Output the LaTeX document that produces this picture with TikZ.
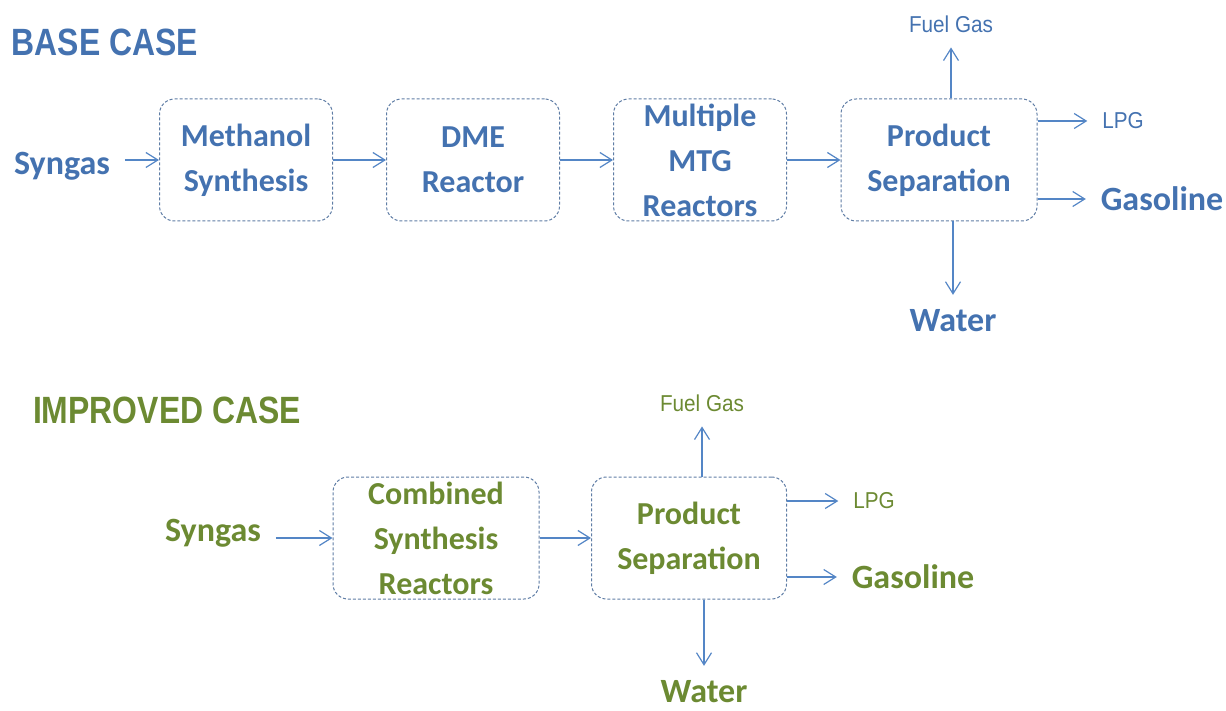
\documentclass[tikz,border=0pt]{standalone}
\usepackage{fontspec}
\setmainfont{Carlito}
\newfontfamily\headfont[FakeStretch=0.84]{Liberation Sans}
\newfontfamily\streamfont[FakeStretch=0.9]{Liberation Sans}
\usetikzlibrary{arrows.meta}
\definecolor{baseBlue}{RGB}{68,114,176}
\definecolor{impGreen}{RGB}{108,138,50}
\definecolor{boxEdge}{RGB}{95,125,165}
\definecolor{arrowBlue}{RGB}{84,134,198}
\begin{document}
\begin{tikzpicture}
[x=1pt,y=-1pt,%
  unitBox/.style={shape=rectangle,rounded corners=15pt,draw=boxEdge,line width=1pt,dash pattern=on 3pt off 2pt,align=center,inner sep=2pt,minimum height=122pt,font=\fontsize{32}{45}\selectfont\bfseries},%
  flowLine/.style={-{Straight Barb[length=12pt,width=15pt]},line width=1.2pt,color=arrowBlue},%
  titleText/.style={inner sep=0pt,font=\headfont\fontsize{38}{40}\selectfont\bfseries},%
  bigStream/.style={inner sep=0pt,outer sep=15pt,font=\fontsize{34}{40}\selectfont\bfseries},%
  smallStream/.style={inner sep=0pt,outer sep=15pt,font=\streamfont\fontsize{23}{26}\selectfont},%
  baseText/.style={text=baseBlue},%
  impText/.style={text=impGreen}]
\useasboundingbox (0,0) rectangle (1226,711);
%% base case
\node (baseTitle) at (105,42) [titleText,baseText] {BASE CASE};
\foreach \nodename/\x/\w/\txt in {meth/246/173/{Methanol\\Synthesis}, dme/473/173/{DME\\Reactor}, mtg/700/173/{Multiple\\MTG\\Reactors}, sepA/939/196/{Product\\Separation}}
{
  \node (\nodename) at (\x,160) [unitBox,baseText,minimum width=\w pt] {\txt};
}
\node (syngasA) at (62,166) [bigStream,baseText] {Syngas};
\node (gasA) at (1162,199) [bigStream,baseText] {Gasoline};
\node (waterA) at (953,321) [bigStream,baseText] {Water};
\node (fuelA) at (951,24) [smallStream,baseText] {Fuel Gas};
\node (lpgA) at (1123,121) [smallStream,baseText] {LPG};
%% improved case
\node (impTitle) at (167,410) [titleText,impText] {IMPROVED CASE};
\foreach \nodename/\x/\w/\txt in {comb/436/206/{Combined\\Synthesis\\Reactors}, sepB/689/195/{Product\\Separation}}
{
  \node (\nodename) at (\x,538) [unitBox,impText,minimum width=\w pt] {\txt};
}
\node (syngasB) at (213,533) [bigStream,impText] {Syngas};
\node (gasB) at (913,577) [bigStream,impText] {Gasoline};
\node (waterB) at (704,692) [bigStream,impText] {Water};
\node (fuelB) at (702,403) [smallStream,impText] {Fuel Gas};
\node (lpgB) at (874,501) [smallStream,impText] {LPG};
%% arrows between units
\path
\foreach \startnode/\endnode in {meth/dme, dme/mtg, mtg/sepA, comb/sepB}
{
  (\startnode) edge[flowLine] node {} (\endnode)
};
%% feed and product arrows
\draw[flowLine] (meth.west -| syngasA.east) -- (meth.west);
\draw[flowLine] (fuelA.south |- sepA.north) -- (fuelA.south);
\draw[flowLine] (sepA.east |- lpgA.west) -- (lpgA.west);
\draw[flowLine] (sepA.east |- gasA.west) -- (gasA.west);
\draw[flowLine] (waterA.north |- sepA.south) -- (waterA.north);
\draw[flowLine] (comb.west -| syngasB.east) -- (comb.west);
\draw[flowLine] (fuelB.south |- sepB.north) -- (fuelB.south);
\draw[flowLine] (sepB.east |- lpgB.west) -- (lpgB.west);
\draw[flowLine] (sepB.east |- gasB.west) -- (gasB.west);
\draw[flowLine] (waterB.north |- sepB.south) -- (waterB.north);
\end{tikzpicture}
\end{document}
